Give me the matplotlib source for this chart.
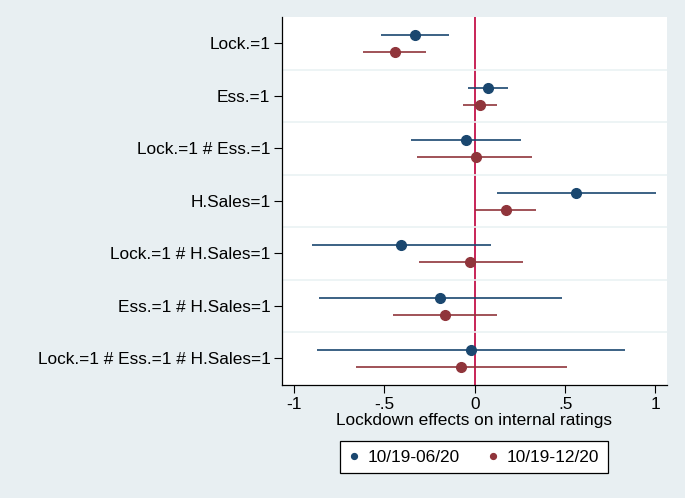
import matplotlib.pyplot as plt
import numpy as np

plt.rcParams['font.family'] = ['Liberation Sans', 'DejaVu Sans']

labels = ["Lock.=1", "Ess.=1", "Lock.=1 # Ess.=1", "H.Sales=1",
          "Lock.=1 # H.Sales=1", "Ess.=1 # H.Sales=1",
          "Lock.=1 # Ess.=1 # H.Sales=1"]

# 10/19-06/20
est_a = [-0.332, 0.073, -0.051, 0.563, -0.407, -0.194, -0.023]
lo_a = [-0.517, -0.038, -0.352, 0.126, -0.902, -0.864, -0.873]
hi_a = [-0.144, 0.183, 0.254, 1.004, 0.089, 0.484, 0.833]

# 10/19-12/20
est_b = [-0.440, 0.027, 0.005, 0.175, -0.025, -0.163, -0.076]
lo_b = [-0.616, -0.067, -0.317, 0.003, -0.310, -0.451, -0.657]
hi_b = [-0.267, 0.126, 0.319, 0.339, 0.269, 0.126, 0.510]

blue = "#1a476f"
red = "#90353b"
fs = 12.4

fig = plt.figure(figsize=(6.85, 4.98), dpi=100, facecolor="#e8eff2")
ax = fig.add_axes([0.412, 0.2275, 0.561, 0.738])
ax.set_facecolor("white")

y = np.arange(1, len(labels) + 1)

ax.axvline(0, color="#c4124a", lw=1.3, zorder=1)

ax.hlines(y - 0.16, lo_a, hi_a, color=blue, lw=1.2, zorder=2)
ax.plot(est_a, y - 0.16, "o", color=blue, ms=7, zorder=3, label="10/19-06/20")
ax.hlines(y + 0.17, lo_b, hi_b, color=red, lw=1.2, zorder=2)
ax.plot(est_b, y + 0.17, "o", color=red, ms=7, zorder=3, label="10/19-12/20")

ax.set_ylim(7.5, 0.5)
ax.set_yticks(y)
ax.set_yticklabels(labels, fontsize=fs)
ax.set_yticks(np.arange(1.5, 7.5, 1), minor=True)
ax.tick_params(axis="y", which="minor", length=0)
ax.tick_params(axis="both", which="major", length=5.5, width=0.8, pad=3)
ax.grid(axis="y", which="minor", color="#eaf2f3", lw=1.2)

ax.set_xlim(-1.065, 1.061)
ax.set_xticks([-1, -0.5, 0, 0.5, 1])
ax.set_xticklabels(["-1", "-.5", "0", ".5", "1"], fontsize=fs)
ax.set_xlabel("Lockdown effects on internal ratings", fontsize=fs, labelpad=1)

for s in ["top", "right"]:
    ax.spines[s].set_visible(False)
for s in ["left", "bottom"]:
    ax.spines[s].set_color("black")
    ax.spines[s].set_linewidth(0.9)

leg = fig.legend(loc="center", bbox_to_anchor=(0.692, 0.082), ncol=2,
                 fontsize=fs, markerscale=0.6, handlelength=0.6,
                 handletextpad=0.5, columnspacing=1.6, fancybox=False,
                 framealpha=1, edgecolor="black", borderpad=0.5,
                 borderaxespad=0)
leg.get_frame().set_linewidth(0.9)

plt.savefig("out.png", dpi=100, facecolor=fig.get_facecolor())
